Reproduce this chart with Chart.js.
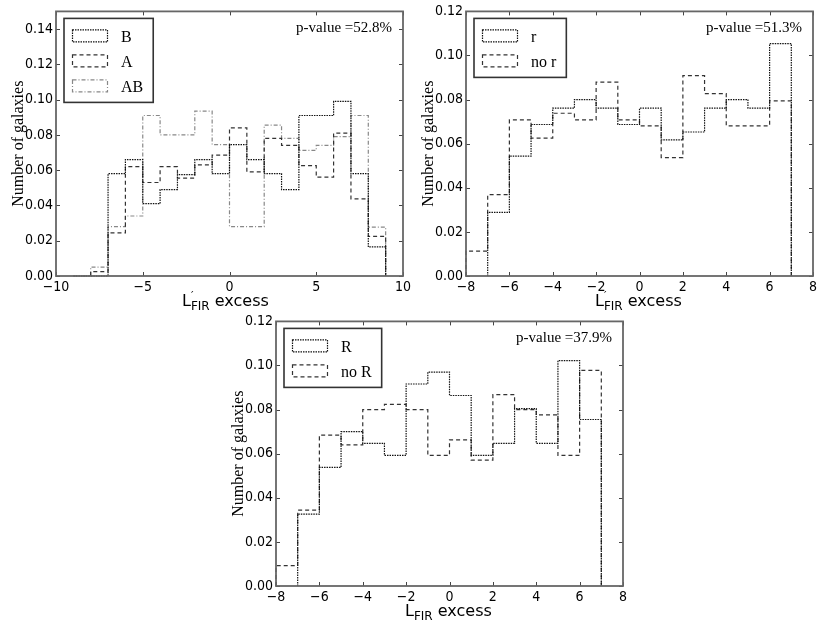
<!DOCTYPE html>
<html>
<head>
<meta charset="utf-8">
<script src="https://cdn.jsdelivr.net/npm/chart.js@4.4.0/dist/chart.umd.min.js"></script>
<style>
  body { margin: 0; background: #fff; }
  #page { position: relative; width: 830px; height: 623px; overflow: hidden; background: #fff; }
  .panel { position: absolute; }
  .xlab { position: absolute; font-family: 'DejaVu Sans', sans-serif; font-size: 16px; color: #000; white-space: nowrap; line-height: 1; }
  .xlab sub { font-size: 12px; vertical-align: -4px; }
  .xlab .pr { position: relative; display: inline-block; }
  .xlab .pr i { position: absolute; left: 0px; top: -3px; font-style: normal; font-size: 11px; }
</style>
</head>
<body>
<div id="page">
  <canvas id="c1" class="panel" width="415" height="310" style="left:0;top:0"></canvas>
  <canvas id="c2" class="panel" width="420" height="310" style="left:410px;top:0"></canvas>
  <canvas id="c3" class="panel" width="420" height="313" style="left:220px;top:310px"></canvas>
  <div class="xlab" style="left:182px;top:293px">L<span class="pr"><i>′</i><sub>FIR</sub></span> excess</div>
  <div class="xlab" style="left:595px;top:293px">L<span class="pr"><i>′</i><sub>FIR</sub></span> excess</div>
  <div class="xlab" style="left:405px;top:603px">L<sub>FIR</sub> excess</div>
</div>
<script>
// histogram values, one per unit-wide bin, starting at the bin edge given
// null = no bin drawn
const start1 = -9;
const histB  = [0, 0, 0.058, 0.066, 0.041, 0.049, 0.0575, 0.066, 0.058, 0.0745, 0.066, 0.058, 0.049, 0.091, 0.091, 0.099, 0.058, 0.0165];
const histA  = [null, 0.0025, 0.0245, 0.062, 0.053, 0.062, 0.0555, 0.063, 0.0685, 0.084, 0.059, 0.078, 0.074, 0.0626, 0.056, 0.081, 0.0437, 0.0225];
const histAB = [0, 0.005, 0.028, 0.034, 0.091, 0.080, 0.080, 0.0935, 0.0745, 0.028, 0.028, 0.0855, 0.078, 0.0712, 0.074, 0.079, 0.091, 0.0277];

const start2 = -8;
const histr   = [null, 0.0289, 0.0544, 0.0687, 0.0761, 0.080, 0.0761, 0.0687, 0.0761, 0.0617, 0.0653, 0.0761, 0.080, 0.0761, 0.1054];
const histNor = [0.0113, 0.0369, 0.0708, 0.0625, 0.0738, 0.0708, 0.0879, 0.0708, 0.0681, 0.0537, 0.0909, 0.0827, 0.0681, 0.0681, 0.0794];

const start3 = -8;
const histR   = [null, 0.0326, 0.0538, 0.070, 0.0647, 0.0592, 0.0916, 0.097, 0.0864, 0.0592, 0.0647, 0.0804, 0.0647, 0.1022, 0.0755];
const histNoR = [0.0092, 0.0344, 0.0684, 0.064, 0.080, 0.0824, 0.080, 0.0592, 0.0663, 0.0571, 0.0868, 0.080, 0.0776, 0.0592, 0.0978];

const pvals = ['p-value =52.8%', 'p-value =51.3%', 'p-value =37.9%'];

const DOT = [1.5, 1];
const DASH = [4, 3];
const DASHDOT = [4, 2, 1, 2];

// outline of a step histogram, as matplotlib histtype='step'
function stepPoints(start, vals) {
  const pts = [];
  const first = vals.findIndex(v => v !== null);
  pts.push({x: start + first, y: 0});
  for (let i = first; i < vals.length; i++) {
    pts.push({x: start + i, y: vals[i]});
    pts.push({x: start + i + 1, y: vals[i]});
  }
  pts.push({x: start + vals.length, y: 0});
  return pts;
}

function series(label, start, vals, color, dash) {
  return {
    label: label,
    data: stepPoints(start, vals),
    borderColor: color,
    borderWidth: 1.2,
    borderDash: dash,
    pointRadius: 0,
    tension: 0,
    fill: false,
    clip: 2
  };
}

const fmtX = v => v < 0 ? '\u2212' + Math.abs(v) : String(v);

// frame, inward ticks, legend box and p-value
const decor = {
  id: 'decor',
  afterDatasetsDraw(chart, args, opts) {
    const ctx = chart.ctx;
    const a = chart.chartArea;
    const sx = chart.scales.x, sy = chart.scales.y;
    ctx.save();
    ctx.strokeStyle = '#444';
    ctx.lineWidth = 1;
    ctx.setLineDash([]);
    sx.ticks.forEach(t => {
      const p = Math.round(sx.getPixelForValue(t.value)) + 0.5;
      ctx.beginPath();
      ctx.moveTo(p, a.bottom); ctx.lineTo(p, a.bottom - 4);
      ctx.moveTo(p, a.top); ctx.lineTo(p, a.top + 4);
      ctx.stroke();
    });
    sy.ticks.forEach(t => {
      const p = Math.round(sy.getPixelForValue(t.value)) + 0.5;
      ctx.beginPath();
      ctx.moveTo(a.left, p); ctx.lineTo(a.left + 4, p);
      ctx.moveTo(a.right, p); ctx.lineTo(a.right - 4, p);
      ctx.stroke();
    });
    ctx.strokeStyle = '#666';
    ctx.lineWidth = 1.8;
    ctx.strokeRect(a.left, a.top, a.right - a.left, a.bottom - a.top);

    // p-value
    ctx.fillStyle = '#000';
    ctx.font = '15px "Liberation Serif", serif';
    ctx.textAlign = 'right';
    ctx.textBaseline = 'middle';
    ctx.fillText(opts.pval, a.right - 11, a.top + 17);

    // legend
    ctx.font = '16px "Liberation Serif", serif';
    const sets = chart.data.datasets;
    let tw = 0;
    sets.forEach(d => { tw = Math.max(tw, ctx.measureText(d.label).width); });
    const lx = a.left + 8, ly = a.top + 7;
    const lw = 57 + tw + 10, lh = 9 + 25 * sets.length;
    ctx.fillStyle = '#fff';
    ctx.fillRect(lx, ly, lw, lh);
    ctx.strokeStyle = '#333';
    ctx.lineWidth = 1.6;
    ctx.strokeRect(lx, ly, lw, lh);
    sets.forEach((d, i) => {
      const cy = ly + 18 + 25 * i;
      ctx.strokeStyle = d.borderColor;
      ctx.lineWidth = 1.2;
      ctx.setLineDash(d.borderDash);
      ctx.strokeRect(lx + 8.5, cy - 6.5, 35, 12);
      ctx.setLineDash([]);
      ctx.fillStyle = '#000';
      ctx.textAlign = 'left';
      ctx.fillText(d.label, lx + 57, cy + 1);
    });
    ctx.restore();
  }
};

function makePanel(id, datasets, xr, xstep, ymax, rightPad, xh, pval) {
  const tickFont = {family: "'DejaVu Sans Condensed', 'DejaVu Sans', sans-serif", size: 14};
  return new Chart(document.getElementById(id), {
    type: 'line',
    data: {datasets: datasets},
    options: {
      responsive: false,
      animation: false,
      devicePixelRatio: 1,
      layout: {padding: {top: 7, right: rightPad, left: 9, bottom: 0}},
      plugins: {
        legend: {display: false},
        tooltip: {enabled: false},
        decor: {pval: pval}
      },
      scales: {
        x: {
          type: 'linear', min: xr[0], max: xr[1],
          grid: {display: false, drawTicks: false},
          border: {display: false},
          ticks: {stepSize: xstep, color: '#000', font: tickFont, padding: 3, maxRotation: 0, callback: fmtX},
          afterFit: s => { s.height = xh; }
        },
        y: {
          type: 'linear', min: 0, max: ymax,
          grid: {display: false, drawTicks: false},
          border: {display: false},
          ticks: {stepSize: 0.02, includeBounds: false, color: '#000', font: tickFont, padding: 3,
                  callback: v => v.toFixed(2)},
          title: {display: true, text: 'Number of galaxies', color: '#000', padding: {top: 0, bottom: 0},
                  font: {family: '"Liberation Serif", serif', size: 16}},
          afterFit: s => { s.width = 47; }
        }
      }
    },
    plugins: [decor]
  });
}

makePanel('c1', [
  series('B', start1, histB, '#111', DOT),
  series('A', start1, histA, '#333', DASH),
  series('AB', start1, histAB, '#888', DASHDOT)
], [-10, 10], 5, 0.15, 12, 34, pvals[0]);

makePanel('c2', [
  series('r', start2, histr, '#111', DOT),
  series('no r', start2, histNor, '#333', DASH)
], [-8, 8], 2, 0.12, 17, 34, pvals[1]);

makePanel('c3', [
  series('R', start3, histR, '#111', DOT),
  series('no R', start3, histNoR, '#333', DASH)
], [-8, 8], 2, 0.12, 17, 37, pvals[2]);
</script>
</body>
</html>
